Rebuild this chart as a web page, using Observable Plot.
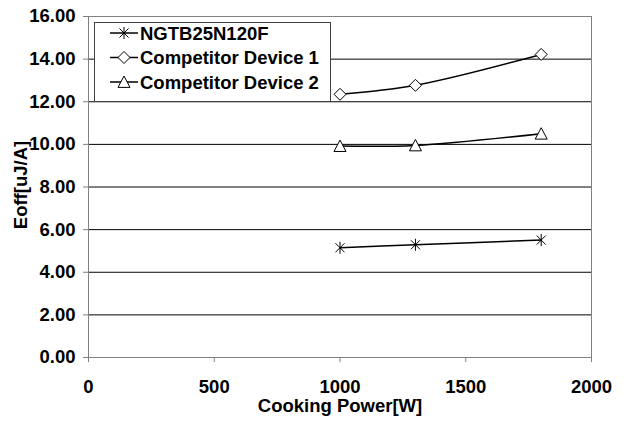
<!DOCTYPE html>
<html>
<head>
<meta charset="utf-8">
<script src="https://cdn.jsdelivr.net/npm/d3@7"></script>
<script src="https://cdn.jsdelivr.net/npm/@observablehq/plot@0.6"></script>
<style>
  html, body { margin: 0; padding: 0; background: #fff; }
  #chart { width: 626px; height: 422px; }
</style>
</head>
<body>
<div id="chart"></div>
<script>
// ---- data ----
const powers = [1000, 1300, 1800];
const seriesNames = ["NGTB25N120F", "Competitor Device 1", "Competitor Device 2"];
const ngtb = [5.15, 5.29, 5.51];
const comp1 = [12.35, 12.77, 14.22];
const comp2 = [9.92, 9.95, 10.50];
const xTicks = [0, 500, 1000, 1500, 2000];
const yTicks = [0, 2, 4, 6, 8, 10, 12, 14, 16];
const xTitle = "Cooking Power[W]";
const yTitle = "Eoff[uJ/A]";

// ---- custom marker symbols ----
const star = { draw(ctx, size) {
  const r = Math.sqrt(size / Math.PI); const d = r * 0.75;
  ctx.moveTo(0, -r); ctx.lineTo(0, r);
  ctx.moveTo(-d, -d); ctx.lineTo(d, d);
  ctx.moveTo(-d, d); ctx.lineTo(d, -d);
}};
const diamond = { draw(ctx, size) {
  const r = Math.sqrt(size / Math.PI);
  ctx.moveTo(0, -r); ctx.lineTo(r, 0); ctx.lineTo(0, r); ctx.lineTo(-r, 0); ctx.closePath();
}};
const triangle = { draw(ctx, size) {
  const r = Math.sqrt(size / Math.PI);
  ctx.moveTo(0, -r); ctx.lineTo(r, r * 0.9); ctx.lineTo(-r, r * 0.9); ctx.closePath();
}};
const symbols = [star, diamond, triangle];
const values = [ngtb, comp1, comp2];

const rows = [];
seriesNames.forEach((s, i) => powers.forEach((p, j) => rows.push({series: s, idx: i, x: p, y: values[i][j]})));

const marks = [
  Plot.gridY(yTicks.filter(v => v > 0 && v < 16), {stroke: "#000", strokeOpacity: 1}),
  Plot.frame({stroke: "#808080"}),
  Plot.axisY({ticks: yTicks, tickFormat: d3.format(".2f"), tickSize: 5, tickPadding: 8, label: null, stroke: "#808080", fill: "#000"}),
  Plot.axisX({ticks: xTicks, tickFormat: d => String(d), tickSize: 5, tickPadding: 17, label: null, stroke: "#808080", fill: "#000"})
];
seriesNames.forEach((s, i) => {
  const data = rows.filter(r => r.idx === i);
  marks.push(Plot.line(data, {x: "x", y: "y", curve: "catmull-rom", stroke: "#000", strokeWidth: 1.5}));
  marks.push(Plot.dot(data, {x: "x", y: "y", symbol: () => symbols[i], r: 6, stroke: "#000", strokeWidth: 1, fill: i === 0 ? "none" : "#fff"}));
});

const chart = Plot.plot({
  width: 626, height: 422,
  marginLeft: 88, marginRight: 35, marginTop: 16, marginBottom: 65,
  x: {domain: [0, 2000]},
  y: {domain: [0, 16]},
  symbol: {type: "identity"},
  style: {fontFamily: "Arial, 'Liberation Sans', sans-serif", fontWeight: "bold", fontSize: "18.5px", color: "#000", background: "#fff"},
  marks
});
document.getElementById("chart").appendChild(chart);

// ---- titles and legend (overlay) ----
const svg = d3.select(chart);
svg.append("text").attr("x", 340).attr("y", 412).attr("text-anchor", "middle")
  .attr("fill", "#000").text(xTitle);
svg.append("text").attr("transform", "translate(26.5,185) rotate(-90)").attr("text-anchor", "middle")
  .attr("fill", "#000").text(yTitle);

const lg = svg.append("g");
lg.append("rect").attr("x", 94.5).attr("y", 22.5).attr("width", 236).attr("height", 79)
  .attr("fill", "#fff").attr("stroke", "#404040").attr("stroke-width", 1);
seriesNames.forEach((s, i) => {
  const cy = 33 + i * 24.5;
  lg.append("line").attr("x1", 110).attr("x2", 138).attr("y1", cy).attr("y2", cy)
    .attr("stroke", "#000").attr("stroke-width", 1.5);
  const path = d3.path(); symbols[i].draw(path, 36 * Math.PI);
  lg.append("path").attr("d", path.toString()).attr("transform", `translate(124,${cy})`)
    .attr("stroke", "#000").attr("stroke-width", 1).attr("fill", i === 0 ? "none" : "#fff");
  lg.append("text").attr("x", 140).attr("y", cy + 6.5).attr("text-anchor", "start")
    .attr("fill", "#000").text(s);
});
</script>
</body>
</html>
